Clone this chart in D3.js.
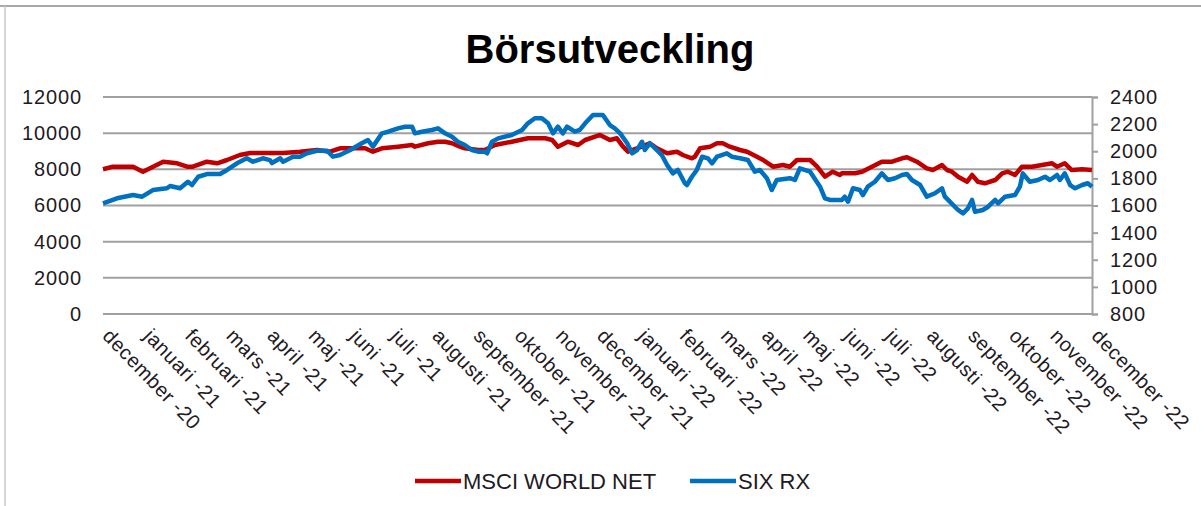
<!DOCTYPE html>
<html><head><meta charset="utf-8">
<script src="https://cdn.jsdelivr.net/npm/d3@7"></script>
<style>
html,body{margin:0;padding:0;background:#fff;}
svg{display:block;font-family:"Liberation Sans",Arial,sans-serif;}
</style></head>
<body><svg id="c" width="1201" height="506"></svg>
<script>
const title = "Börsutveckling";
const seriesNames = ["MSCI WORLD NET", "SIX RX"];
const monthLabels = ["december -20","januari -21","februari -21","mars -21","april -21","maj -21","juni -21","juli -21","augusti -21","september -21","oktober -21","november -21","december -21","januari -22","februari -22","mars -22","april -22","maj -22","juni -22","juli -22","augusti -22","september -22","oktober -22","november -22","december -22"];
const leftTicks = [0,2000,4000,6000,8000,10000,12000];
const rightTicks = [800,1000,1200,1400,1600,1800,2000,2200,2400];
// [month index from december -20, value]
const msci = [[0,8002],[0.24,8146],[0.73,8146],[0.97,7869],[1.46,8422],[1.8,8334],[2.04,8146],[2.18,8146],[2.52,8422],[2.77,8334],[3.01,8516],[3.32,8793],[3.57,8903],[4.37,8903],[4.78,8975],[5.19,9069],[5.51,8975],[5.75,9163],[6,9163],[6.36,9163],[6.55,8975],[6.77,9163],[7.16,9252],[7.5,9346],[7.57,9252],[7.89,9440],[8.13,9528],[8.3,9528],[8.47,9440],[8.66,9252],[8.78,9163],[9.1,9069],[9.27,9069],[9.51,9346],[9.92,9528],[10.31,9716],[10.73,9716],[10.9,9622],[11.04,9252],[11.28,9528],[11.53,9346],[11.7,9622],[11.94,9805],[12.06,9899],[12.3,9622],[12.47,9716],[12.62,9252],[12.74,8975],[12.96,9163],[13.27,9440],[13.44,9163],[13.69,8887],[13.93,8975],[14.07,8793],[14.29,8610],[14.36,8699],[14.49,9163],[14.73,9252],[14.9,9440],[15.04,9440],[15.21,9252],[15.46,9069],[15.63,8975],[15.87,8699],[16.02,8516],[16.26,8146],[16.5,8240],[16.67,8146],[16.84,8516],[17.16,8516],[17.33,8146],[17.52,7593],[17.71,7869],[17.88,7687],[17.93,7781],[18.25,7781],[18.42,7869],[18.66,8146],[18.9,8422],[19.15,8422],[19.39,8610],[19.51,8666],[19.75,8422],[19.99,8057],[20.14,7963],[20.36,8240],[20.48,7963],[20.6,7869],[20.75,7593],[20.97,7316],[21.09,7687],[21.23,7316],[21.4,7228],[21.65,7410],[21.82,7781],[21.96,7869],[22.13,7687],[22.3,8146],[22.54,8146],[22.79,8240],[23.03,8334],[23.15,8146],[23.34,8334],[23.51,7963],[23.76,8002],[24,7963]];
const six = [[0,1616],[0.34,1653],[0.73,1677],[0.95,1665],[1.21,1714],[1.55,1727],[1.63,1744],[1.87,1727],[2.06,1775],[2.16,1751],[2.31,1812],[2.52,1832],[2.84,1832],[3.01,1862],[3.25,1911],[3.49,1948],[3.64,1923],[3.88,1948],[4.05,1935],[4.1,1913],[4.3,1948],[4.37,1923],[4.61,1960],[4.78,1960],[4.95,1985],[5.19,2004],[5.44,2004],[5.58,1960],[5.75,1972],[6,2009],[6.28,2059],[6.43,2083],[6.55,2034],[6.77,2132],[6.92,2144],[7.16,2169],[7.33,2181],[7.5,2181],[7.57,2132],[7.74,2144],[7.98,2157],[8.13,2169],[8.3,2132],[8.47,2107],[8.61,2070],[8.78,2046],[8.95,2009],[9.1,1997],[9.27,1997],[9.32,1985],[9.44,2070],[9.59,2095],[9.92,2120],[10.17,2157],[10.31,2206],[10.48,2243],[10.65,2243],[10.8,2206],[10.92,2132],[11.04,2181],[11.16,2132],[11.26,2181],[11.45,2144],[11.57,2157],[11.7,2206],[11.89,2267],[11.99,2267],[12.13,2267],[12.3,2193],[12.42,2169],[12.55,2132],[12.72,2059],[12.84,1985],[12.96,2009],[13.08,2070],[13.15,2009],[13.27,2059],[13.44,2009],[13.56,1972],[13.69,1899],[13.83,1837],[13.95,1862],[14.12,1764],[14.17,1751],[14.29,1812],[14.41,1862],[14.54,1960],[14.68,1948],[14.78,1911],[14.9,1960],[15.14,1985],[15.26,1960],[15.46,1948],[15.65,1935],[15.82,1849],[15.94,1862],[16.11,1801],[16.23,1714],[16.35,1788],[16.67,1801],[16.79,1788],[16.91,1874],[17.16,1849],[17.4,1739],[17.52,1653],[17.64,1641],[17.81,1641],[17.93,1641],[18,1665],[18.08,1628],[18.2,1727],[18.37,1714],[18.44,1677],[18.56,1739],[18.73,1775],[18.9,1837],[19.05,1788],[19.22,1801],[19.39,1825],[19.51,1832],[19.63,1788],[19.83,1751],[19.99,1665],[20.19,1690],[20.36,1727],[20.43,1665],[20.55,1628],[20.75,1567],[20.87,1542],[20.99,1579],[21.09,1641],[21.16,1554],[21.35,1567],[21.48,1591],[21.65,1641],[21.72,1616],[21.89,1665],[22.13,1677],[22.25,1739],[22.32,1837],[22.49,1775],[22.69,1788],[22.86,1812],[22.98,1788],[23.15,1825],[23.22,1788],[23.34,1837],[23.47,1751],[23.59,1727],[23.76,1751],[23.9,1764],[24,1739]];
const colors = ["#C00000", "#0070C0"];

const svg = d3.select("#c");
const m = {left:103, right:1092, top:97, bottom:314};
const x = d3.scaleLinear().domain([0, monthLabels.length-1]).range([m.left, m.right]);
const yL = d3.scaleLinear().domain([0,12000]).range([m.bottom, m.top]);
const yR = d3.scaleLinear().domain([800,2400]).range([m.bottom, m.top]);
const FONT = "Liberation Sans, Arial, sans-serif";

// frame
svg.append("line").attr("x1",0).attr("x2",1201).attr("y1",6).attr("y2",6).attr("stroke","#a8a8a8").attr("stroke-width",2);
svg.append("line").attr("x1",5).attr("x2",5).attr("y1",6).attr("y2",506).attr("stroke","#c8c8c8").attr("stroke-width",1.5);

// title
svg.append("text").attr("x",610).attr("y",63).attr("text-anchor","middle")
  .attr("font-size",40).attr("font-weight","bold").attr("fill","#000").text(title);

// gridlines
svg.append("g").selectAll("line").data(leftTicks).join("line")
  .attr("x1",m.left).attr("x2",m.right).attr("y1",d=>yL(d)).attr("y2",d=>yL(d))
  .attr("stroke","#a0a0a0").attr("stroke-width",2);

// left axis
const gl = svg.append("g").attr("transform",`translate(${m.left},0)`)
  .call(d3.axisLeft(yL).tickValues(leftTicks).tickSize(0).tickPadding(21).tickFormat(d3.format("d")));
gl.select(".domain").remove();
gl.selectAll("text").attr("font-size",20).attr("fill","#221a22").attr("font-family",FONT).attr("letter-spacing","0.9px");

// right axis
const gr = svg.append("g").attr("transform",`translate(${m.right},0)`)
  .call(d3.axisRight(yR).tickValues(rightTicks).tickSize(6).tickPadding(12).tickFormat(d3.format("d")));
gr.select(".domain").attr("stroke","#a0a0a0").attr("stroke-width",2);
gr.selectAll(".tick line").attr("stroke","#a0a0a0").attr("stroke-width",2);
gr.selectAll("text").attr("font-size",20).attr("fill","#221a22").attr("font-family",FONT).attr("letter-spacing","0.9px");

// bottom axis labels
const gb = svg.append("g").attr("transform",`translate(0,${m.bottom})`)
  .call(d3.axisBottom(x).tickValues(d3.range(monthLabels.length)).tickSize(0).tickFormat(i=>monthLabels[i]));
gb.select(".domain").remove();
gb.selectAll("text").attr("font-size",20).attr("fill","#221a22").attr("font-family",FONT).attr("letter-spacing","0.6px")
  .attr("text-anchor","start").attr("dy",null).attr("y",0)
  .attr("transform","translate(-2,23) rotate(46)");

// lines
const lineL = d3.line().x(d=>x(d[0])).y(d=>yL(d[1]));
const lineR = d3.line().x(d=>x(d[0])).y(d=>yR(d[1]));
svg.append("path").datum(msci).attr("d",lineL).attr("fill","none").attr("stroke",colors[0]).attr("stroke-width",4.5).attr("stroke-linejoin","round");
svg.append("path").datum(six).attr("d",lineR).attr("fill","none").attr("stroke",colors[1]).attr("stroke-width",4.5).attr("stroke-linejoin","round");

// legend
const leg = [{name:seriesNames[0],color:colors[0],x:415},{name:seriesNames[1],color:colors[1],x:690}];
const lg = svg.append("g");
leg.forEach(l=>{
  lg.append("line").attr("x1",l.x).attr("x2",l.x+46).attr("y1",481).attr("y2",481).attr("stroke",l.color).attr("stroke-width",4.5);
  lg.append("text").attr("x",l.x+48).attr("y",489).attr("font-size",22).attr("fill","#221a22").attr("font-family",FONT).text(l.name);
});
</script></body></html>
